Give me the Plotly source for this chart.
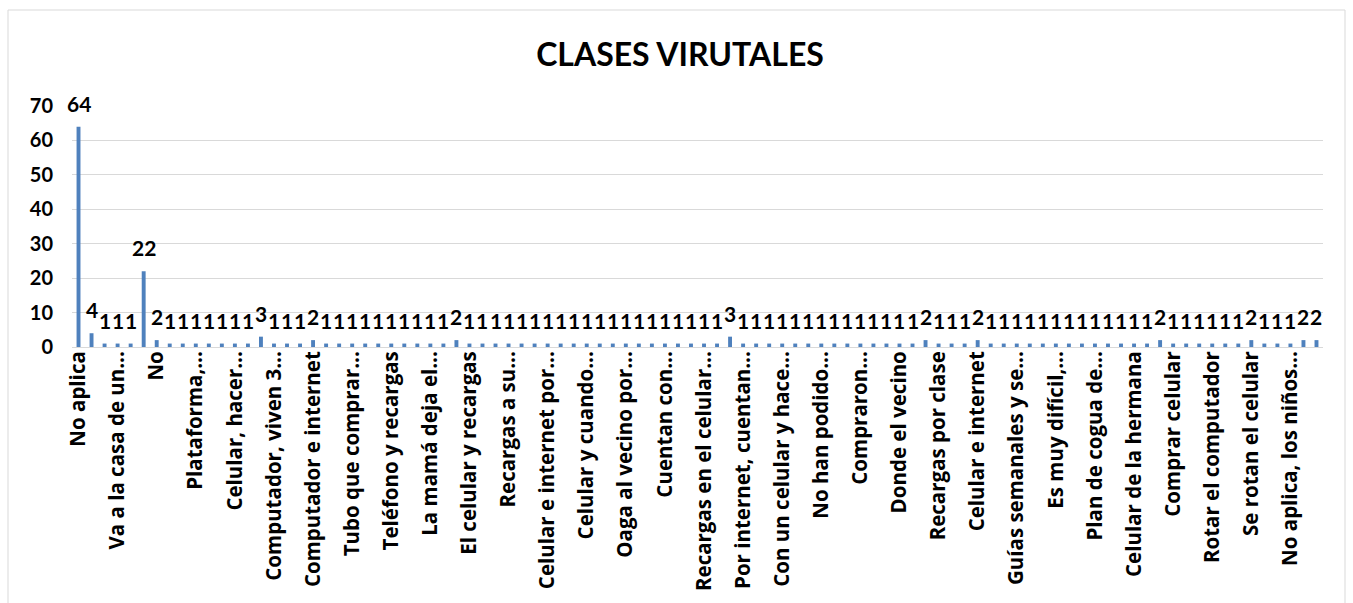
import plotly.graph_objects as go

# Visible category labels (one every third category, as on the axis)
tick_labels = [
    "No aplica", "Va a la casa de un...", "No", "Plataforma,...",
    "Celular, hacer...", "Computador, viven 3...", "Computador e internet",
    "Tubo que comprar...", "Teléfono y recargas", "La mamá deja el...",
    "El celular y recargas", "Recargas a su...", "Celular e internet por...",
    "Celular y cuando...", "Oaga al vecino por...", "Cuentan con...",
    "Recargas en el celular...", "Por internet, cuentan...",
    "Con un celular y hace...", "No han podido...", "Compraron...",
    "Donde el vecino", "Recargas por clase", "Celular e internet",
    "Guías semanales y se...", "Es muy difícil,...", "Plan de cogua de...",
    "Celular de la hermana", "Comprar celular", "Rotar el computador",
    "Se rotan el celular", "No aplica, los niños...",
]
label_step = 3

# Number of responses per category
counts = [
    64, 4, 1, 1, 1, 22, 2, 1, 1, 1,
    1, 1, 1, 1, 3, 1, 1, 1, 2, 1,
    1, 1, 1, 1, 1, 1, 1, 1, 1, 2,
    1, 1, 1, 1, 1, 1, 1, 1, 1, 1,
    1, 1, 1, 1, 1, 1, 1, 1, 1, 1,
    3, 1, 1, 1, 1, 1, 1, 1, 1, 1,
    1, 1, 1, 1, 1, 2, 1, 1, 1, 2,
    1, 1, 1, 1, 1, 1, 1, 1, 1, 1,
    1, 1, 1, 2, 1, 1, 1, 1, 1, 1,
    2, 1, 1, 1, 2, 2,
]

title_text = "CLASES VIRUTALES"
y_max = 70
y_step = 10

W, H = 1353, 603
M_L, M_R, M_T, M_B = 72, 30, 106, 256
FONT = "Lato"
LABEL_FONT = "Open Sans"
GRID = "#D9D9D9"

positions = list(range(len(counts)))
tick_positions = positions[::label_step][:len(tick_labels)]

fig = go.Figure()
fig.add_trace(go.Bar(
    x=positions,
    y=counts,
    width=0.3,
    marker=dict(color="#4F81BD", line=dict(width=0)),
    hoverinfo="x+y",
    showlegend=False,
))

# Value labels above each bar
for xi, v in zip(positions, counts):
    fig.add_annotation(
        x=xi, y=v, text=str(v), showarrow=False,
        yanchor="bottom", xanchor="center", yshift=9,
        font=dict(family=FONT, size=21, color="#000000", weight="bold"),
    )

# Outer chart frame
plot_w = W - M_L - M_R
plot_h = H - M_T - M_B
fig.add_shape(
    type="rect", xref="paper", yref="paper",
    x0=(8 - M_L) / plot_w, x1=(1345 - M_L) / plot_w,
    y0=(M_T + plot_h - (H + 5)) / plot_h, y1=(M_T + plot_h - 10) / plot_h,
    line=dict(color=GRID, width=1), fillcolor="rgba(0,0,0,0)", layer="below",
)

fig.update_layout(
    width=W, height=H,
    margin=dict(l=M_L, r=M_R, t=M_T, b=M_B, autoexpand=False),
    paper_bgcolor="#FFFFFF", plot_bgcolor="#FFFFFF",
    title=dict(
        text=title_text, x=(680 / W), xanchor="center",
        y=1 - 55 / H, yanchor="middle", yref="container",
        font=dict(family=FONT, size=32, color="#000000", weight="bold"),
    ),
    xaxis=dict(
        range=[-0.5, len(counts) - 0.5], automargin=False,
        tickmode="array", tickvals=tick_positions, ticktext=tick_labels,
        tickangle=-90, ticks="", showgrid=False, ticklabelstandoff=-5,
        showline=True, linecolor=GRID, linewidth=1, zeroline=False,
        tickfont=dict(family=LABEL_FONT, size=20.5, color="#000000", weight="bold"),
    ),
    yaxis=dict(
        range=[0, y_max], dtick=y_step, tick0=0, automargin=False,
        showgrid=True, gridcolor=GRID, gridwidth=1,
        zeroline=False, showline=False,
        ticks="outside", ticklen=14, tickcolor="rgba(0,0,0,0)",
        tickfont=dict(family=FONT, size=20, color="#000000", weight="bold"),
        tickformat="d",
    ),
    bargap=0.7,
)

fig.write_html("out.html")
